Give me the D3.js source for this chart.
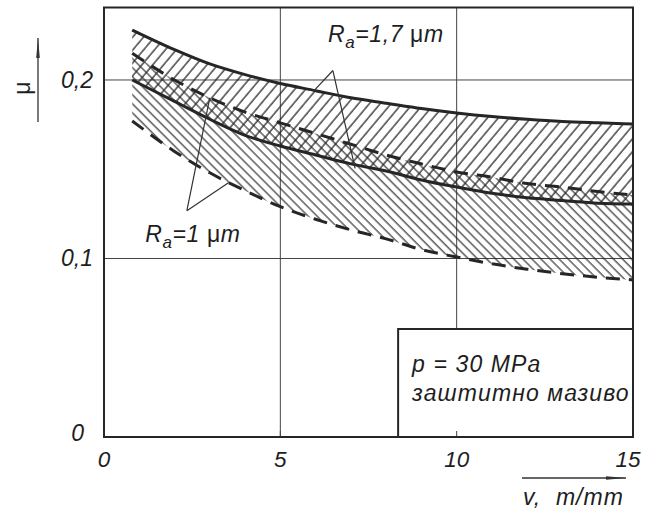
<!DOCTYPE html>
<html><head><meta charset="utf-8">
<script src="https://cdn.jsdelivr.net/npm/d3@7"></script>
<style>
html,body{margin:0;padding:0;background:#fff;}
svg{display:block;}
text{font-family:"Liberation Sans",Arial,sans-serif;font-style:italic;fill:#1e1e1e;}
</style></head>
<body>
<svg id="chart" width="647" height="513"></svg>
<script>
// ---- data ----
const vValues      = [0.8, 2, 3, 4, 5, 6, 7, 8, 9, 10, 11, 12, 13, 14, 15];
const ra17Upper    = [0.228, 0.217, 0.209, 0.203, 0.198, 0.194, 0.190, 0.187, 0.184, 0.1815, 0.1795, 0.178, 0.1768, 0.176, 0.1753]; // solid
const ra17Lower    = [0.200, 0.188, 0.178, 0.169, 0.163, 0.158, 0.153, 0.149, 0.144, 0.140, 0.1365, 0.134, 0.1325, 0.131, 0.1305]; // solid
const ra1Upper     = [0.215, 0.200, 0.190, 0.182, 0.176, 0.170, 0.164, 0.158, 0.153, 0.1485, 0.1455, 0.142, 0.140, 0.1375, 0.1356]; // dashed
const ra1Lower     = [0.177, 0.160, 0.148, 0.138, 0.129, 0.122, 0.116, 0.111, 0.105, 0.1008, 0.097, 0.094, 0.0915, 0.0895, 0.088]; // dashed

const xTicks = [0, 5, 10, 15];
const xTickLabels = ["0", "5", "10", "15"];
const yTicks = [0, 0.1, 0.2];
const yTickLabels = ["0", "0,1", "0,2"];
const xLabel = "v,  m/mm";
const yLabel = "μ";
const ra17Label = {main: "R", sub: "a", rest: "=1,7 ", mu: "μ", unit: "m"};
const ra1Label  = {main: "R", sub: "a", rest: "=1 ", mu: "μ", unit: "m"};
const legendLines = ["p = 30 MPa", "заштитно мазиво"];

// annotation leaders in data units [v, mu]
const ra17Apex = [6.49, 0.2053], ra17Legs = [[5.93, 0.1935], [7.12, 0.1505]];
const ra1Apex  = [2.35, 0.1268], ra1Legs  = [[3.0, 0.190], [3.54, 0.1425]];
const ra17Text = [6.35, 0.2215];
const ra1Text  = [1.17, 0.1095];
const legendBox = [8.34, 0.0605];

// ---- drawing ----
const svg = d3.select("#chart");
const x = d3.scaleLinear().domain([0, 15]).range([104, 633]);
const y = d3.scaleLinear().domain([0, 0.2406]).range([437, 7.5]);
const ink = "#262626";

const defs = svg.append("defs");
defs.append("pattern").attr("id", "hatchF").attr("patternUnits", "userSpaceOnUse")
  .attr("width", 8.3).attr("height", 20).attr("patternTransform", "rotate(40)")
  .append("line").attr("x1", 1).attr("y1", 0).attr("x2", 1).attr("y2", 20)
  .attr("stroke", "#222").attr("stroke-width", 1.25);
defs.append("pattern").attr("id", "hatchB").attr("patternUnits", "userSpaceOnUse")
  .attr("width", 6.4).attr("height", 20).attr("patternTransform", "rotate(-45)")
  .append("line").attr("x1", 1).attr("y1", 0).attr("x2", 1).attr("y2", 20)
  .attr("stroke", "#222").attr("stroke-width", 1.1);

const idx = d3.range(vValues.length);

// grid
const grid = svg.append("g");
grid.selectAll(".gx").data(xTicks.filter(d => d > 0 && d < 15)).join("line")
  .attr("x1", d => x(d)).attr("x2", d => x(d)).attr("y1", y(0)).attr("y2", y(0.2406))
  .attr("stroke", "#444").attr("stroke-width", 1);
grid.selectAll(".gy").data(yTicks.filter(d => d > 0)).join("line")
  .attr("x1", x(0)).attr("x2", x(15)).attr("y1", d => y(d)).attr("y2", d => y(d))
  .attr("stroke", "#444").attr("stroke-width", 1);

// hatched bands
const band = (top, bot) => d3.area().x(i => x(vValues[i])).y0(i => y(bot[i])).y1(i => y(top[i])).curve(d3.curveMonotoneX);
svg.append("path").attr("d", band(ra1Upper, ra1Lower)(idx)).attr("fill", "url(#hatchB)");
svg.append("path").attr("d", band(ra17Upper, ra17Lower)(idx)).attr("fill", "url(#hatchF)");

// curves
const line = arr => d3.line().x(i => x(vValues[i])).y(i => y(arr[i])).curve(d3.curveMonotoneX)(idx);
svg.append("path").attr("d", line(ra17Upper)).attr("fill", "none").attr("stroke", ink).attr("stroke-width", 3);
svg.append("path").attr("d", line(ra17Lower)).attr("fill", "none").attr("stroke", ink).attr("stroke-width", 3);
svg.append("path").attr("d", line(ra1Upper)).attr("fill", "none").attr("stroke", ink).attr("stroke-width", 3).attr("stroke-dasharray", "14 9");
svg.append("path").attr("d", line(ra1Lower)).attr("fill", "none").attr("stroke", ink).attr("stroke-width", 3).attr("stroke-dasharray", "14 9");

// leaders
function leaders(apex, legs) {
  legs.forEach(l => svg.append("line")
    .attr("x1", x(apex[0])).attr("y1", y(apex[1])).attr("x2", x(l[0])).attr("y2", y(l[1]))
    .attr("stroke", "#333").attr("stroke-width", 1.2));
}
leaders(ra17Apex, ra17Legs);
leaders(ra1Apex, ra1Legs);

function raText(pos, lab) {
  const t = svg.append("text").attr("x", x(pos[0])).attr("y", y(pos[1])).attr("font-size", 23).attr("letter-spacing", 0.6);
  t.append("tspan").text(lab.main);
  t.append("tspan").attr("dy", 6).attr("font-size", 17).text(lab.sub);
  t.append("tspan").attr("dy", -6).text(lab.rest);
  t.append("tspan").style("font-style", "normal").text(lab.mu);
  t.append("tspan").text(lab.unit);
}
raText(ra17Text, ra17Label);
raText(ra1Text, ra1Label);

// legend box
svg.append("rect").attr("x", x(legendBox[0])).attr("y", y(legendBox[1]))
  .attr("width", x(15) - x(legendBox[0])).attr("height", y(0) - y(legendBox[1]))
  .attr("fill", "#fff").attr("stroke", ink).attr("stroke-width", 2);
svg.selectAll(".leg").data(legendLines).join("text")
  .attr("x", x(legendBox[0]) + 14).attr("y", (d, i) => y(legendBox[1]) + 43 + i * 29)
  .attr("font-size", 23).attr("letter-spacing", 1.1).text(d => d);

// inward ticks on bottom
svg.selectAll(".tk").data(xTicks.filter(d => d > 0 && d < 15)).join("line")
  .attr("x1", d => x(d)).attr("x2", d => x(d)).attr("y1", y(0)).attr("y2", y(0) - 6)
  .attr("stroke", "#444").attr("stroke-width", 1);

// frame
svg.append("rect").attr("x", x(0)).attr("y", y(0.2406)).attr("width", x(15) - x(0)).attr("height", y(0) - y(0.2406))
  .attr("fill", "none").attr("stroke", ink).attr("stroke-width", 2);

// tick labels
svg.selectAll(".xl").data(xTicks).join("text")
  .attr("x", (d, i) => x(d) + (i === xTicks.length - 1 ? -5 : 0)).attr("y", 467)
  .attr("text-anchor", "middle").attr("font-size", 22.5).text((d, i) => xTickLabels[i]);
svg.selectAll(".yl").data(yTicks).join("text")
  .attr("x", (d, i) => i === 0 ? 84 : 93).attr("y", (d, i) => y(d) + (i === 0 ? 4 : 8))
  .attr("text-anchor", "end").attr("font-size", 23).text((d, i) => yTickLabels[i]);

// axis arrows
defs.append("marker").attr("id", "arr").attr("viewBox", "0 0 20 6").attr("refX", 20).attr("refY", 3)
  .attr("markerWidth", 20).attr("markerHeight", 6).attr("markerUnits", "userSpaceOnUse").attr("orient", "auto")
  .append("path").attr("d", "M0,1.2 L20,3 L0,4.8 Z").attr("fill", "#333");
svg.append("line").attr("x1", 38).attr("y1", 122).attr("x2", 38).attr("y2", 38)
  .attr("stroke", "#333").attr("stroke-width", 1.3).attr("marker-end", "url(#arr)");
svg.append("line").attr("x1", 522).attr("y1", 478).attr("x2", 626).attr("y2", 478)
  .attr("stroke", "#333").attr("stroke-width", 1.3).attr("marker-end", "url(#arr)");

svg.append("text").attr("transform", "translate(30,88) rotate(-90)").attr("text-anchor", "middle")
  .attr("font-size", 23).style("font-style", "normal").text(yLabel);
svg.append("text").attr("x", 523).attr("y", 505).attr("font-size", 23).attr("letter-spacing", 1)
  .attr("xml:space", "preserve").style("white-space", "pre").text(xLabel);
</script>
</body></html>
